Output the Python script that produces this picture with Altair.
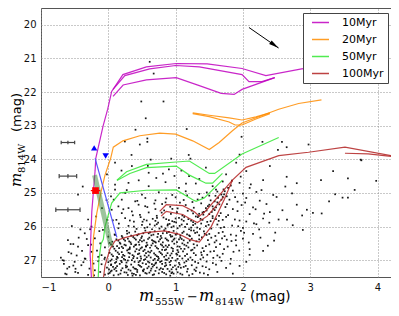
import altair as alt
import pandas as pd

# ---------------- data ----------------
AGES = ["10Myr", "20Myr", "50Myr", "100Myr"]
COLORS = ["#c000c0", "#ff8c00", "#33e833", "#b22222"]

ISO_10 = [
    [(-0.25, 27.55), (-0.27, 26.82), (-0.245, 25.55), (-0.196, 24.33), (-0.186, 23.97), (-0.078, 23.01),
     (-0.009, 22.51), (0.05, 21.98), (0.217, 21.48), (0.566, 21.25), (1.009, 21.15), (1.47, 21.16),
     (1.987, 21.3), (2.341, 21.51), (2.872, 21.31), (3.27, 21.22)],
    [(0.07, 21.92), (0.246, 21.51), (0.615, 21.31), (1.0, 21.21), (1.352, 21.25), (1.987, 21.48),
     (2.09, 21.69), (2.282, 21.69), (2.473, 21.57)],
    [(0.07, 22.13), (0.22, 21.79), (0.566, 21.64), (1.009, 21.57), (1.352, 21.81), (1.677, 22.04),
     (1.869, 22.07), (1.987, 21.92), (2.473, 21.57)],
]
ISO_20 = [
    [(-0.22, 27.55), (-0.236, 26.99), (-0.219, 26.29), (-0.171, 25.6), (-0.108, 24.97), (-0.049, 24.47),
     (0.035, 23.97), (0.074, 23.64), (0.217, 23.45), (0.468, 23.3), (0.763, 23.22), (1.0, 23.25),
     (1.254, 23.45), (1.5, 23.71), (1.647, 23.5), (1.844, 23.15), (1.987, 22.92), (2.134, 22.81),
     (2.532, 22.51), (2.827, 22.34), (3.167, 22.23)],
    [(1.254, 22.62), (1.5, 22.69), (1.795, 22.77), (1.987, 22.83), (2.193, 22.74), (2.4, 22.62)],
    [(1.254, 22.64), (1.5, 22.73), (1.795, 22.89), (1.884, 22.98), (1.987, 22.98), (2.193, 22.8), (2.4, 22.64)],
]
ISO_50 = [
    [(-0.15, 27.55), (-0.14, 26.99), (-0.108, 26.52), (-0.074, 26.38), (-0.049, 26.0), (0.05, 25.3),
     (0.173, 25.0), (0.566, 24.92), (1.009, 24.91), (1.254, 25.2), (1.304, 25.25), (1.426, 25.15),
     (1.696, 24.62)],
    [(0.128, 24.62), (0.271, 24.37), (0.566, 24.15), (1.009, 24.08), (1.205, 24.05), (1.5, 24.42),
     (1.58, 24.42), (1.987, 23.84), (2.532, 23.35)],
    [(0.128, 24.63), (0.32, 24.42), (0.566, 24.25), (1.009, 24.2), (1.205, 24.47), (1.45, 24.71),
     (1.549, 24.71), (1.696, 24.42)],
]
ISO_100 = [
    [(-0.074, 27.55), (-0.049, 27.16), (0.025, 26.67), (0.099, 26.43), (0.246, 26.33), (0.541, 26.18),
     (0.836, 26.13), (1.057, 26.23), (1.205, 26.38), (1.352, 26.46), (1.529, 26.0), (1.721, 25.2),
     (1.844, 24.62), (2.046, 24.24), (2.532, 23.89), (2.975, 23.79), (3.516, 23.64), (4.25, 23.91)],
    [(0.763, 25.55), (0.861, 25.35), (1.106, 25.38), (1.279, 25.56), (1.352, 25.69), (1.45, 25.53), (1.844, 24.62)],
    [(0.785, 25.69), (0.861, 25.55), (1.106, 25.64), (1.205, 25.76), (1.323, 25.88), (1.47, 25.69), (1.721, 25.11)],
    [(3.516, 23.82), (3.86, 23.84), (4.25, 23.92)],
]

STARS = [
    (-0.62,27.42),(-0.45,27.38),(-0.3,27.44),(-0.12,27.35),(-0.05,27.43),(0.02,27.38),(0.08,27.45),(0.12,27.32),(0.18,27.4),(0.24,27.36),(0.29,27.44),(0.33,27.31),(0.38,27.41),(0.43,27.35),(0.47,27.45),(0.52,27.33),(0.57,27.4),(0.61,27.37),(0.66,27.44),(0.7,27.32),(0.75,27.39),(0.8,27.35),(0.86,27.42),(0.91,27.33),(0.97,27.4),(1.03,27.36),(1.1,27.43),(1.17,27.34),(1.25,27.41),(1.36,27.37),(1.48,27.44),(1.62,27.35),(1.85,27.4),(0.05,27.31),(0.36,27.46),(0.63,27.31),(0.92,27.46),
    (-0.58,27.2),(-0.4,27.15),(-0.28,27.25),(-0.1,27.12),(-0.02,27.22),(0.04,27.15),(0.09,27.27),(0.13,27.18),(0.17,27.11),(0.21,27.24),(0.26,27.16),(0.3,27.28),(0.34,27.13),(0.37,27.21),(0.41,27.26),(0.45,27.14),(0.49,27.2),(0.53,27.27),(0.56,27.12),(0.6,27.19),(0.64,27.25),(0.68,27.15),(0.72,27.22),(0.76,27.28),(0.8,27.11),(0.84,27.18),(0.88,27.26),(0.92,27.14),(0.96,27.21),(1.01,27.27),(1.06,27.13),(1.12,27.2),(1.18,27.26),(1.24,27.15),(1.31,27.22),(1.4,27.18),(1.5,27.27),(1.6,27.13),(1.75,27.23),(1.95,27.17),(0.07,27.2),(0.43,27.29),(0.7,27.1),(0.99,27.16),
    (-0.68,27.0),(-0.5,27.05),(-0.35,26.95),(-0.15,27.03),(-0.05,26.92),(0.0,27.06),(0.05,26.98),(0.1,27.08),(0.14,26.93),(0.19,27.02),(0.23,26.96),(0.27,27.07),(0.31,26.91),(0.35,27.0),(0.39,27.05),(0.43,26.94),(0.47,27.02),(0.51,27.09),(0.55,26.97),(0.59,27.04),(0.63,26.92),(0.67,27.0),(0.71,27.07),(0.75,26.95),(0.79,27.03),(0.83,26.9),(0.87,26.99),(0.91,27.06),(0.95,26.93),(1.0,27.01),(1.05,27.08),(1.1,26.95),(1.16,27.03),(1.22,26.92),(1.29,27.05),(1.37,26.97),(1.46,27.04),(1.56,26.93),(1.68,27.02),(1.82,26.96),(2.05,27.05),(0.25,26.99),(0.57,26.91),(0.85,27.08),
    (-0.55,26.8),(-0.25,26.75),(-0.1,26.85),(0.02,26.78),(0.07,26.88),(0.11,26.72),(0.16,26.82),(0.2,26.76),(0.24,26.87),(0.28,26.71),(0.32,26.8),(0.36,26.85),(0.4,26.74),(0.44,26.82),(0.48,26.89),(0.52,26.73),(0.56,26.79),(0.6,26.86),(0.64,26.72),(0.68,26.8),(0.72,26.88),(0.76,26.75),(0.8,26.83),(0.84,26.7),(0.88,26.79),(0.92,26.86),(0.96,26.73),(1.01,26.81),(1.06,26.88),(1.11,26.74),(1.17,26.82),(1.23,26.71),(1.3,26.85),(1.38,26.77),(1.47,26.84),(1.57,26.73),(1.7,26.81),(1.86,26.75),(2.1,26.84),(2.3,26.72),(0.13,26.9),(0.46,26.7),(0.74,26.9),(1.03,26.7),
    (-0.45,26.6),(-0.3,26.55),(-0.05,26.62),(0.04,26.53),(0.09,26.66),(0.13,26.58),(0.18,26.51),(0.22,26.64),(0.26,26.56),(0.3,26.68),(0.34,26.52),(0.38,26.6),(0.42,26.67),(0.46,26.54),(0.5,26.62),(0.54,26.69),(0.58,26.55),(0.62,26.63),(0.66,26.5),(0.7,26.58),(0.74,26.66),(0.78,26.53),(0.82,26.61),(0.86,26.68),(0.9,26.55),(0.94,26.63),(0.98,26.51),(1.03,26.59),(1.08,26.66),(1.13,26.54),(1.19,26.62),(1.25,26.69),(1.32,26.56),(1.4,26.64),(1.5,26.53),(1.6,26.61),(1.72,26.67),(1.9,26.56),(2.1,26.67),(2.37,26.57),(0.2,26.6),(0.56,26.58),(0.8,26.69),(1.1,26.5),
    (-0.6,26.4),(-0.2,26.35),(0.06,26.45),(0.12,26.38),(0.17,26.48),(0.21,26.32),(0.25,26.42),(0.29,26.36),(0.33,26.47),(0.37,26.31),(0.41,26.39),(0.45,26.46),(0.49,26.34),(0.53,26.41),(0.57,26.48),(0.61,26.33),(0.65,26.4),(0.69,26.45),(0.73,26.31),(0.77,26.38),(0.81,26.47),(0.85,26.35),(0.89,26.42),(0.93,26.3),(0.97,26.39),(1.02,26.46),(1.07,26.33),(1.12,26.41),(1.18,26.48),(1.24,26.36),(1.31,26.44),(1.39,26.32),(1.48,26.4),(1.58,26.47),(1.69,26.35),(1.83,26.43),(2.0,26.36),(2.26,26.33),(0.47,26.4),(0.75,26.44),(1.05,26.38),
    (-0.35,26.2),(0.1,26.25),(0.2,26.28),(0.28,26.21),(0.34,26.27),(0.4,26.15),(0.45,26.23),(0.5,26.29),(0.55,26.12),(0.6,26.2),(0.64,26.26),(0.69,26.14),(0.74,26.22),(0.78,26.28),(0.83,26.11),(0.87,26.19),(0.92,26.25),(0.97,26.13),(1.02,26.21),(1.07,26.27),(1.12,26.15),(1.17,26.23),(1.23,26.11),(1.29,26.19),(1.35,26.26),(1.42,26.14),(1.5,26.22),(1.59,26.28),(1.7,26.16),(1.82,26.24),(1.97,26.13),(2.15,26.22),(2.48,26.18),(2.89,26.1),(0.62,26.17),(0.95,26.29),(1.27,26.12),
    (-0.25,26.0),(0.15,26.05),(0.3,25.98),(0.42,26.07),(0.5,25.95),(0.58,26.02),(0.65,26.08),(0.72,25.93),(0.79,26.0),(0.85,26.06),(0.91,25.92),(0.97,25.99),(1.03,26.05),(1.09,25.94),(1.14,26.01),(1.2,26.08),(1.26,25.96),(1.32,26.03),(1.38,25.91),(1.45,25.99),(1.53,26.06),(1.62,25.94),(1.72,26.02),(1.84,25.97),(2.0,26.04),(2.2,25.93),(2.74,25.96),(0.88,25.97),(1.17,25.93),
    (0.12,25.8),(0.25,25.75),(0.38,25.85),(0.48,25.72),(0.57,25.82),(0.66,25.77),(0.74,25.88),(0.82,25.73),(0.9,25.81),(0.98,25.86),(1.05,25.74),(1.12,25.83),(1.19,25.78),(1.26,25.87),(1.33,25.72),(1.4,25.8),(1.47,25.86),(1.55,25.75),(1.64,25.83),(1.75,25.71),(1.88,25.79),(2.05,25.85),(2.3,25.76),(2.53,25.79),(1.0,25.76),(1.6,25.78),
    (0.2,25.6),(0.35,25.55),(0.47,25.65),(0.6,25.58),(0.72,25.68),(0.83,25.52),(0.93,25.62),(1.02,25.57),(1.1,25.67),(1.18,25.53),(1.26,25.61),(1.34,25.68),(1.42,25.56),(1.5,25.63),(1.58,25.51),(1.67,25.6),(1.78,25.66),(1.92,25.54),(2.1,25.63),(2.4,25.57),(2.88,25.67),(3.04,25.59),(3.17,25.61),(1.46,25.52),(1.55,25.69),
    (0.15,25.4),(0.3,25.45),(0.45,25.35),(0.58,25.42),(0.7,25.48),(0.8,25.33),(0.92,25.41),(1.03,25.46),(1.15,25.36),(1.27,25.44),(1.38,25.31),(1.48,25.39),(1.56,25.47),(1.65,25.34),(1.74,25.42),(1.85,25.48),(1.98,25.36),(2.15,25.43),(2.35,25.33),(2.8,25.35),(2.95,25.5),(3.28,25.25),(1.6,25.43),
    (0.2,25.2),(0.4,25.25),(0.55,25.15),(0.7,25.22),(0.85,25.28),(1.0,25.13),(1.12,25.21),(1.25,25.27),(1.4,25.14),(1.52,25.22),(1.62,25.28),(1.7,25.12),(1.8,25.2),(1.92,25.26),(2.05,25.15),(2.25,25.23),(2.5,25.12),(2.73,25.01),(3.48,25.14),(3.56,25.14),(3.37,25.04),
    (0.25,25.0),(0.5,25.05),(0.75,24.98),(0.95,25.06),(1.15,24.95),(1.35,25.03),(1.5,25.08),(1.62,24.96),(1.72,25.04),(1.85,24.93),(2.0,25.02),(2.2,24.97),(2.45,25.06),(2.63,24.81),(3.66,24.91),(-0.45,25.05),
    (0.1,24.75),(0.3,24.7),(0.6,24.8),(0.85,24.68),(1.05,24.85),(1.3,24.72),(1.55,24.8),(1.7,24.66),(1.82,24.78),(1.95,24.7),(2.1,24.85),(2.3,24.62),(2.8,24.71),(2.65,24.52),(3.16,24.62),(3.56,24.57),(3.98,24.64),
    (0.35,24.2),(0.6,24.4),(0.9,24.3),(1.2,24.5),(1.45,24.25),(1.75,24.45),(1.9,24.1),(2.05,24.35),(2.4,24.2),(3.34,24.35),(3.76,24.03),(0.63,24.01),(0.935,23.98),(1.22,23.98),(0.1,24.1),(-0.02,24.45),
    (0.345,23.87),(1.195,23.87),(1.95,23.86),(2.52,23.72),(2.65,23.64),(2.29,23.48),(2.58,23.48),(1.98,23.33),(2.975,23.56),(3.75,24.01),(0.246,23.47),(0.468,23.56),(0.58,23.38),(0.58,23.48),(0.404,23.12),(1.165,23.1),(0.556,22.78),(0.49,22.28),(0.82,22.28),(0.674,21.45),(0.615,21.1),
    (-0.38,24.81),(-0.52,26.52),(-0.59,26.76),(-0.47,26.86),(-0.39,26.72),(-0.66,27.11),(-0.52,27.16),(-0.37,27.06),(-0.64,27.4),(-0.49,27.35),(-0.32,26.37),(-0.3,25.79),(-0.27,26.08),(-0.44,26.33),(-0.56,26.52),(-0.61,27.25),(-0.34,26.96),(-0.66,27.01),
    (0.0,27.4),(0.15,27.43),(0.27,27.37),(0.41,27.44),(0.55,27.38),(0.68,27.42),(0.83,27.38),(0.95,27.36),(1.07,27.4),(1.2,27.45),(1.3,27.32),(1.42,27.39),
    (0.01,27.27),(0.11,27.23),(0.19,27.3),(0.28,27.19),(0.39,27.25),(0.47,27.17),(0.58,27.24),(0.66,27.19),(0.78,27.24),(0.86,27.15),(0.94,27.27),(1.04,27.2),(1.15,27.17),(1.28,27.28),(1.45,27.21),
    (0.03,27.02),(0.12,26.97),(0.2,27.06),(0.29,27.01),(0.37,26.94),(0.45,27.06),(0.53,26.99),(0.61,27.07),(0.69,26.96),(0.77,27.05),(0.85,26.98),(0.93,27.02),(1.03,26.96),(1.13,27.07),(1.25,26.99),(1.41,26.92),
    (0.05,26.83),(0.14,26.77),(0.22,26.84),(0.3,26.78),(0.38,26.89),(0.46,26.8),(0.54,26.86),(0.62,26.77),(0.7,26.84),(0.78,26.79),(0.86,26.86),(0.94,26.8),(1.04,26.76),(1.14,26.87),(1.27,26.79),(1.42,26.73),(1.62,26.86),
    (0.07,26.6),(0.16,26.64),(0.24,26.54),(0.32,26.62),(0.4,26.55),(0.48,26.65),(0.56,26.6),(0.64,26.56),(0.72,26.63),(0.8,26.56),(0.88,26.61),(0.96,26.66),(1.06,26.6),(1.16,26.57),(1.28,26.63),(1.45,26.58),(1.66,26.52),
    (0.15,26.42),(0.23,26.38),(0.31,26.44),(0.39,26.35),(0.5,26.44),(0.59,26.37),(0.67,26.43),(0.79,26.34),(0.87,26.39),(0.95,26.44),(1.09,26.37),(1.21,26.42),(1.35,26.38),(1.53,26.33),(1.76,26.39),
    (0.31,26.18),(0.43,26.26),(0.52,26.2),(0.67,26.24),(0.81,26.2),(0.9,26.16),(1.0,26.24),(1.1,26.19),(1.2,26.26),(1.32,26.17),(1.46,26.25),(1.64,26.19),(1.9,26.27),
    (0.38,26.0),(0.54,26.04),(0.69,25.97),(0.76,26.06),(0.94,26.02),(1.06,25.98),(1.23,26.03),(1.36,26.07),(1.49,25.95),(1.67,26.04),(1.93,25.99),
    (0.32,25.82),(0.53,25.79),(0.7,25.83),(0.86,25.78),(0.95,25.84),(1.09,25.79),(1.23,25.82),(1.37,25.77),(1.52,25.84),(1.7,25.8),(1.95,25.82),
    (1.3,25.7),(1.4,25.58),(1.45,25.45),(1.5,25.35),(1.58,25.25),(1.63,25.15),(1.68,25.05),(1.73,24.95),(1.78,24.85),(1.68,25.2),(1.55,25.4),(1.35,25.62),(1.6,24.9),(1.76,25.1),
    (-0.2,27.3),(-0.15,26.9),(-0.12,26.5),(-0.08,26.1),(-0.02,25.8),(0.05,25.5),(0.08,25.2),(-0.18,25.7),(0.0,26.3),(-0.22,27.1),(0.1,24.9),(0.04,25.1),
    (0.034,27.335),(0.117,27.052),(0.205,26.912),(0.263,27.215),(0.318,26.665),(0.352,27.392),(0.413,26.535),(0.487,26.955),(0.513,27.305),(0.592,26.745),(0.648,27.115),(0.706,26.475),(0.737,26.995),(0.812,27.265),(0.853,26.565),(0.897,26.945),(0.938,27.385),(0.984,26.355),(1.025,26.835),(1.078,27.225),(1.132,26.665),(1.186,26.975),(1.213,26.285),(1.268,26.525),(1.336,27.085),(1.388,26.845),(1.432,26.215),(1.517,26.745),(1.553,27.085),(1.606,26.415),(1.655,26.915),(1.728,26.285),(1.774,26.595),(1.812,27.105),(1.893,26.405),(1.945,26.715),(2.018,26.185),(2.087,26.475),(2.164,25.905),(2.241,26.085),(2.315,25.615),(2.392,25.885),(2.463,26.415),(2.587,25.515),(2.655,25.795),
    (0.157,25.915),(0.223,25.485),(0.276,26.125),(0.364,25.665),(0.431,25.235),(0.509,25.855),(0.548,25.395),(0.617,25.935),(0.684,25.315),(0.723,25.745),(0.793,25.585),(0.861,25.165),(0.884,25.935),(0.952,25.475),(1.007,25.875),(1.064,25.285),(1.128,25.715),(1.171,25.075),(1.239,25.525),(1.292,25.915),(1.327,25.195),(1.412,25.645),(1.463,24.985),(1.537,25.565),(1.592,25.085),(1.645,25.685),(1.712,24.895),(1.763,25.335),(1.836,24.635),(1.884,25.125),(1.967,24.515),(2.033,25.285),(2.117,24.745),(2.188,25.485),(2.276,24.915),
    (-0.168,26.715),(-0.133,26.135),(-0.094,25.455),(-0.057,26.965),(-0.026,25.215),(0.018,26.485),(0.043,27.125),(0.067,25.815),(0.094,26.235),(-0.212,27.455),(-0.257,26.535),(-0.415,26.085),(-0.487,27.255),(-0.705,26.925),(-0.542,25.985),
    (0.452,24.625),(0.713,24.555),(0.983,24.495),(1.154,24.725),(0.274,24.915),(0.812,24.425),(0.587,24.195),(1.086,24.335),(0.196,24.335),(1.352,24.585),
]

# error-bar crosses on the left: centre x, y, x error, y error
ERR_XC = [-0.6, -0.6, -0.6]
ERR_Y = [23.5, 24.5, 25.5]
ERR_XE = [0.10, 0.13, 0.18]
ERR_YE = [0.05, 0.06, 0.07]

RED_PT = (-0.19, 24.93, 0.07, 0.05)
BLUE_UP = (-0.21, 23.66)
BLUE_DOWN = (-0.04, 23.9)
BLUE_LINE = [(-0.196, 23.97), (0.128, 26.32)]
GREEN_BAND = [(-0.204, 24.47), (0.04, 26.58)]
ARROW = [(2.09, 20.08), (2.53, 20.69)]

X_TICKS = [-1, 0, 1, 2, 3, 4]
Y_TICKS = [20, 21, 22, 23, 24, 25, 26, 27]

# ---------------- build tables ----------------
iso_rows = []
for age, segs in zip(AGES, [ISO_10, ISO_20, ISO_50, ISO_100]):
    for si, seg in enumerate(segs):
        for oi, (x, y) in enumerate(seg):
            iso_rows.append({"age": age, "seg": f"{age}-{si}", "o": oi, "x": x, "y": y})
iso_df = pd.DataFrame(iso_rows)
stars_df = pd.DataFrame(STARS, columns=["x", "y"])

xs = alt.Scale(domain=[-1, 4.2], nice=False, zero=False)
ys = alt.Scale(domain=[19.5, 27.5], reverse=True, nice=False, zero=False)
xaxis = alt.Axis(values=X_TICKS, title=None, grid=True,
                 labelExpr="datum.value < 0 ? '\u2212' + (-datum.value) : datum.label")
yaxis = alt.Axis(values=Y_TICKS, title=None, grid=True)


def X(f="x"):
    return alt.X(f"{f}:Q", scale=xs, axis=xaxis)


def Y(f="y"):
    return alt.Y(f"{f}:Q", scale=ys, axis=yaxis)


stars = alt.Chart(stars_df).mark_square(size=3, color="black", opacity=0.9).encode(x=X(), y=Y())

iso = alt.Chart(iso_df).mark_line(strokeWidth=1.2, opacity=0.85, clip=True).encode(
    x=X(), y=Y(),
    color=alt.Color("age:N", scale=alt.Scale(domain=AGES, range=COLORS),
                    legend=alt.Legend(title=None, orient="none", legendX=262, legendY=5,
                                      symbolType="M-2,0L2,0", symbolSize=72, symbolStrokeWidth=1.5,
                                      symbolOffset=8, labelFontSize=11, labelFont="DejaVu Sans",
                                      labelOffset=16, padding=4, rowPadding=5, fillColor="white",
                                      strokeColor="#444", symbolOpacity=0.85)),
    detail="seg:N", order="o:Q")

band_df = pd.DataFrame(GREEN_BAND, columns=["x", "y"])
band = alt.Chart(band_df).mark_line(color="#3a8a3a", opacity=0.5, strokeWidth=5).encode(x=X(), y=Y())
bline_df = pd.DataFrame(BLUE_LINE, columns=["x", "y"])
bline = alt.Chart(bline_df).mark_line(color="#5555ff", strokeWidth=1.2).encode(x=X(), y=Y())

err_df = pd.DataFrame({"xc": ERR_XC, "y": ERR_Y, "xe": ERR_XE, "ye": ERR_YE})
err_df["x1"] = err_df.xc - err_df.xe
err_df["x2"] = err_df.xc + err_df.xe
err_df["y1"] = err_df.y - err_df.ye
err_df["y2"] = err_df.y + err_df.ye
ebase = alt.Chart(err_df)
eh = ebase.mark_rule(color="#444", strokeWidth=1.2).encode(x=X("x1"), x2="x2:Q", y=Y())
ec1 = ebase.mark_rule(color="#444", strokeWidth=1.2).encode(x=X("x1"), y=Y("y1"), y2="y2:Q")
ec2 = ebase.mark_rule(color="#444", strokeWidth=1.2).encode(x=X("x2"), y=Y("y1"), y2="y2:Q")
ec3 = ebase.mark_rule(color="#444", strokeWidth=1.2).encode(x=X("xc"), y=Y("y1"), y2="y2:Q")

rp = pd.DataFrame([{"x": RED_PT[0], "y": RED_PT[1], "x1": RED_PT[0] - RED_PT[2], "x2": RED_PT[0] + RED_PT[2],
                    "y1": RED_PT[1] - RED_PT[3], "y2": RED_PT[1] + RED_PT[3]}])
rbase = alt.Chart(rp)
rh = rbase.mark_rule(color="red", strokeWidth=1.2).encode(x=X("x1"), x2="x2:Q", y=Y())
rv = rbase.mark_rule(color="red", strokeWidth=1.2).encode(x=X(), y=Y("y1"), y2="y2:Q")
rsq = rbase.mark_square(color="red", size=45, opacity=1).encode(x=X(), y=Y())

bu = alt.Chart(pd.DataFrame([BLUE_UP], columns=["x", "y"])).mark_point(
    shape="triangle-up", filled=True, color="blue", size=40, opacity=1).encode(x=X(), y=Y())
bd = alt.Chart(pd.DataFrame([BLUE_DOWN], columns=["x", "y"])).mark_point(
    shape="triangle-down", filled=True, color="blue", size=40, opacity=1).encode(x=X(), y=Y())

arrow_df = pd.DataFrame(ARROW, columns=["x", "y"])
aline = alt.Chart(arrow_df).mark_line(color="black", strokeWidth=1).encode(x=X(), y=Y())
ahead = alt.Chart(arrow_df.tail(1)).mark_point(
    shape="M -2 -0.45 L 0 0 L -2 0.45 Z", filled=True, color="black", size=100, angle=35, opacity=1
).encode(x=X(), y=Y())

one = pd.DataFrame({"a": [0]})


def txt(t, px, py, size, font="DejaVu Sans", style="normal", angle=0):
    return alt.Chart(one).mark_text(text=t, align="left", baseline="alphabetic", fontSize=size,
                                    font=font, fontStyle=style, angle=angle, color="black").encode(
        x=alt.value(px), y=alt.value(py))


titles = [
    txt("m", 98, 293, 16, "DejaVu Serif", "italic"),
    txt("555W", 114, 297, 10, "DejaVu Serif"),
    txt("\u2212", 146, 293, 13),
    txt("m", 158, 293, 16, "DejaVu Serif", "italic"),
    txt("814W", 174, 297, 10, "DejaVu Serif"),
    txt("(mag)", 209, 293, 13.5),
    txt("m", -20, 179, 15, "DejaVu Serif", "italic", 270),
    txt("814W", -16, 165, 10, "DejaVu Serif", angle=270),
    txt("(mag)", -20, 124, 13, angle=270),
]

chart = alt.layer(stars, iso, band, bline, eh, ec1, ec2, ec3, rh, rv, rsq, bu, bd, aline, ahead, *titles).properties(
    width=350, height=269,
    padding={"left": 33, "top": 0, "right": 0, "bottom": 31},
    autosize=alt.AutoSizeParams(type="none"),
).configure_view(stroke="#555", strokeWidth=1).configure_axis(
    gridDash=[1, 2], gridColor="#888", gridOpacity=0.9, ticks=False, domain=False,
    labelFont="DejaVu Sans", labelFontSize=10, labelColor="#111", labelPadding=5,
)

chart.save("out.html", embed_options={"renderer": "svg", "actions": False})
